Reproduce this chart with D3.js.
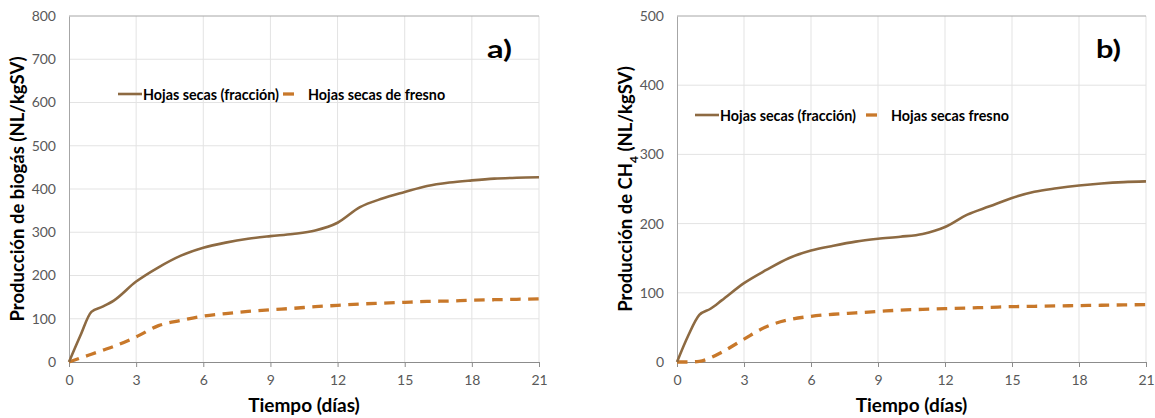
<!DOCTYPE html>
<html>
<head>
<meta charset="utf-8">
<script src="https://cdn.jsdelivr.net/npm/d3@7"></script>
<style>
  html, body { margin: 0; padding: 0; background: #fff; }
  svg { display: block; }
  text { font-family: Lato, "Open Sans", "Liberation Sans", sans-serif; }
</style>
</head>
<body>
<svg id="chart" width="1155" height="418"></svg>
<script>
// ---- Data ----
const days = [0, 0.5, 1, 1.5, 2, 3, 4, 5, 6, 7, 8, 9, 10, 11, 12, 13, 14, 15, 16, 17, 18, 19, 20, 21];
const xTicks = [0, 3, 6, 9, 12, 15, 18, 21];

// Panel a) biogas
const biogasFraccion = [0, 60, 116, 128, 142, 186, 219, 246, 264, 276, 285, 291, 296, 304, 322, 358, 378, 393, 407, 415, 420, 424, 426, 427];
const biogasFresno   = [0, 9, 18, 27, 36, 58, 84, 96, 106, 112, 117, 121, 124, 128, 131, 134, 136, 138, 140, 141, 143, 144, 145, 146];
const yTicksA = [0, 100, 200, 300, 400, 500, 600, 700, 800];

// Panel b) methane
const ch4Fraccion = [0, 38, 68, 77, 89, 114, 133, 150, 161, 168, 174, 178, 181, 185, 195, 213, 225, 237, 246, 251, 255, 258, 260, 261];
const ch4Fresno   = [0, 0, 1, 6, 14, 33, 51, 61, 66, 69, 71, 73, 75, 76, 77, 78, 79, 80, 80.5, 81, 81.5, 82, 82.5, 83];
const yTicksB = [0, 100, 200, 300, 400, 500];

const seriesNamesA = ["Hojas secas (fracción)", "Hojas secas de fresno"];
const seriesNamesB = ["Hojas secas (fracción)", "Hojas secas fresno"];

// ---- Drawing ----
const svg = d3.select("#chart");
const solidColor = "#8d6a42";
const dashColor = "#c8782a";
const FONT = "Lato, 'Open Sans', sans-serif";

function drawPanel(cfg) {
  const g = svg.append("g");
  const x = d3.scaleLinear().domain([0, 21]).range([cfg.x0, cfg.x1]);
  const y = d3.scaleLinear().domain([0, cfg.yMax]).range([362, 16]);

  // gridlines
  g.append("g").selectAll("line").data(cfg.yTicks.slice(1, -1)).join("line")
    .attr("x1", x(0)).attr("x2", x(21))
    .attr("y1", d => y(d)).attr("y2", d => y(d))
    .attr("stroke", "#e3e3e3").attr("stroke-width", 1);
  g.append("g").selectAll("line").data(xTicks.slice(1)).join("line")
    .attr("x1", d => x(d)).attr("x2", d => x(d))
    .attr("y1", y(cfg.yMax)).attr("y2", y(0))
    .attr("stroke", "#e3e3e3").attr("stroke-width", 1);
  // top frame line
  g.append("line").attr("x1", x(0)).attr("x2", x(21))
    .attr("y1", y(cfg.yMax)).attr("y2", y(cfg.yMax))
    .attr("stroke", "#a6a6a6").attr("stroke-width", 1);

  // y axis
  const yAxis = d3.axisLeft(y).tickValues(cfg.yTicks).tickSize(0).tickPadding(13);
  const ya = g.append("g").attr("transform", `translate(${x(0)},0)`).call(yAxis);
  ya.select(".domain").attr("stroke", "#a6a6a6");
  ya.selectAll("text").attr("fill", "#595959").style("font-size", "14px").style("font-family", FONT);

  // x axis
  const xAxis = d3.axisBottom(x).tickValues(xTicks).tickSize(5).tickSizeOuter(0).tickPadding(8);
  const xa = g.append("g").attr("transform", `translate(0,${y(0)})`).call(xAxis);
  xa.select(".domain").attr("stroke", "#8c8c8c");
  xa.selectAll(".tick line").attr("stroke", "#8c8c8c");
  xa.selectAll("text").attr("fill", "#595959").style("font-size", "14px").style("font-family", FONT);

  // lines
  const line = d3.line().x((d, i) => x(days[i])).y(d => y(d)).curve(d3.curveMonotoneX);
  g.append("path").datum(cfg.fresno).attr("d", line)
    .attr("fill", "none").attr("stroke", dashColor).attr("stroke-width", 3.3)
    .attr("stroke-dasharray", "10.5,7.5");
  g.append("path").datum(cfg.fraccion).attr("d", line)
    .attr("fill", "none").attr("stroke", solidColor).attr("stroke-width", 2.6);

  // axis titles
  g.append("text")
    .attr("transform", `translate(${cfg.yTitleX},${(y(0) + y(cfg.yMax)) / 2}) rotate(-90)`)
    .attr("text-anchor", "middle").attr("dominant-baseline", "middle")
    .style("font-size", "18.5px").style("font-weight", "bold").attr("fill", "#000")
    .call(cfg.yTitle);
  g.append("text")
    .attr("x", (x(0) + x(21)) / 2).attr("y", 412)
    .attr("text-anchor", "middle")
    .style("font-size", "19px").style("font-weight", "bold").attr("fill", "#000")
    .text("Tiempo (días)");

  // panel label
  g.append("text").attr("x", cfg.labelX).attr("y", 58)
    .style("font-size", "24px").style("font-weight", "bold").attr("fill", "#000")
    .attr("textLength", 25).attr("lengthAdjust", "spacingAndGlyphs")
    .text(cfg.label);

  // legend
  const L = cfg.legend;
  g.append("line").attr("x1", L.s1).attr("x2", L.s1 + 24).attr("y1", L.y).attr("y2", L.y)
    .attr("stroke", solidColor).attr("stroke-width", 2.6);
  g.append("text").attr("x", L.t1).attr("y", L.y).attr("dominant-baseline", "central")
    .style("font-size", "14.3px").style("font-weight", "bold").attr("fill", "#000")
    .text(cfg.names[0]);
  g.append("line").attr("x1", L.s2).attr("x2", L.s2 + 11).attr("y1", L.y).attr("y2", L.y)
    .attr("stroke", dashColor).attr("stroke-width", 3.3);
  g.append("text").attr("x", L.t2).attr("y", L.y).attr("dominant-baseline", "central")
    .style("font-size", "14.3px").style("font-weight", "bold").attr("fill", "#000")
    .text(cfg.names[1]);
}

drawPanel({
  x0: 69, x1: 539, yMax: 800, yTicks: yTicksA,
  fraccion: biogasFraccion, fresno: biogasFresno,
  yTitleX: 19, label: "a)", labelX: 487,
  yTitle: t => t.text("Producción de biogás (NL/kgSV)"),
  names: seriesNamesA,
  legend: { y: 94, s1: 118, t1: 143, s2: 283, t2: 308 }
});

drawPanel({
  x0: 677, x1: 1146, yMax: 500, yTicks: yTicksB,
  fraccion: ch4Fraccion, fresno: ch4Fresno,
  yTitleX: 627, label: "b)", labelX: 1096,
  yTitle: t => {
    t.append("tspan").text("Producción de CH");
    t.append("tspan").attr("baseline-shift", "sub").style("font-size", "12px").text("4");
    t.append("tspan").text(" (NL/kgSV)");
  },
  names: seriesNamesB,
  legend: { y: 115, s1: 695, t1: 720, s2: 866, t2: 891 }
});
</script>
</body>
</html>
